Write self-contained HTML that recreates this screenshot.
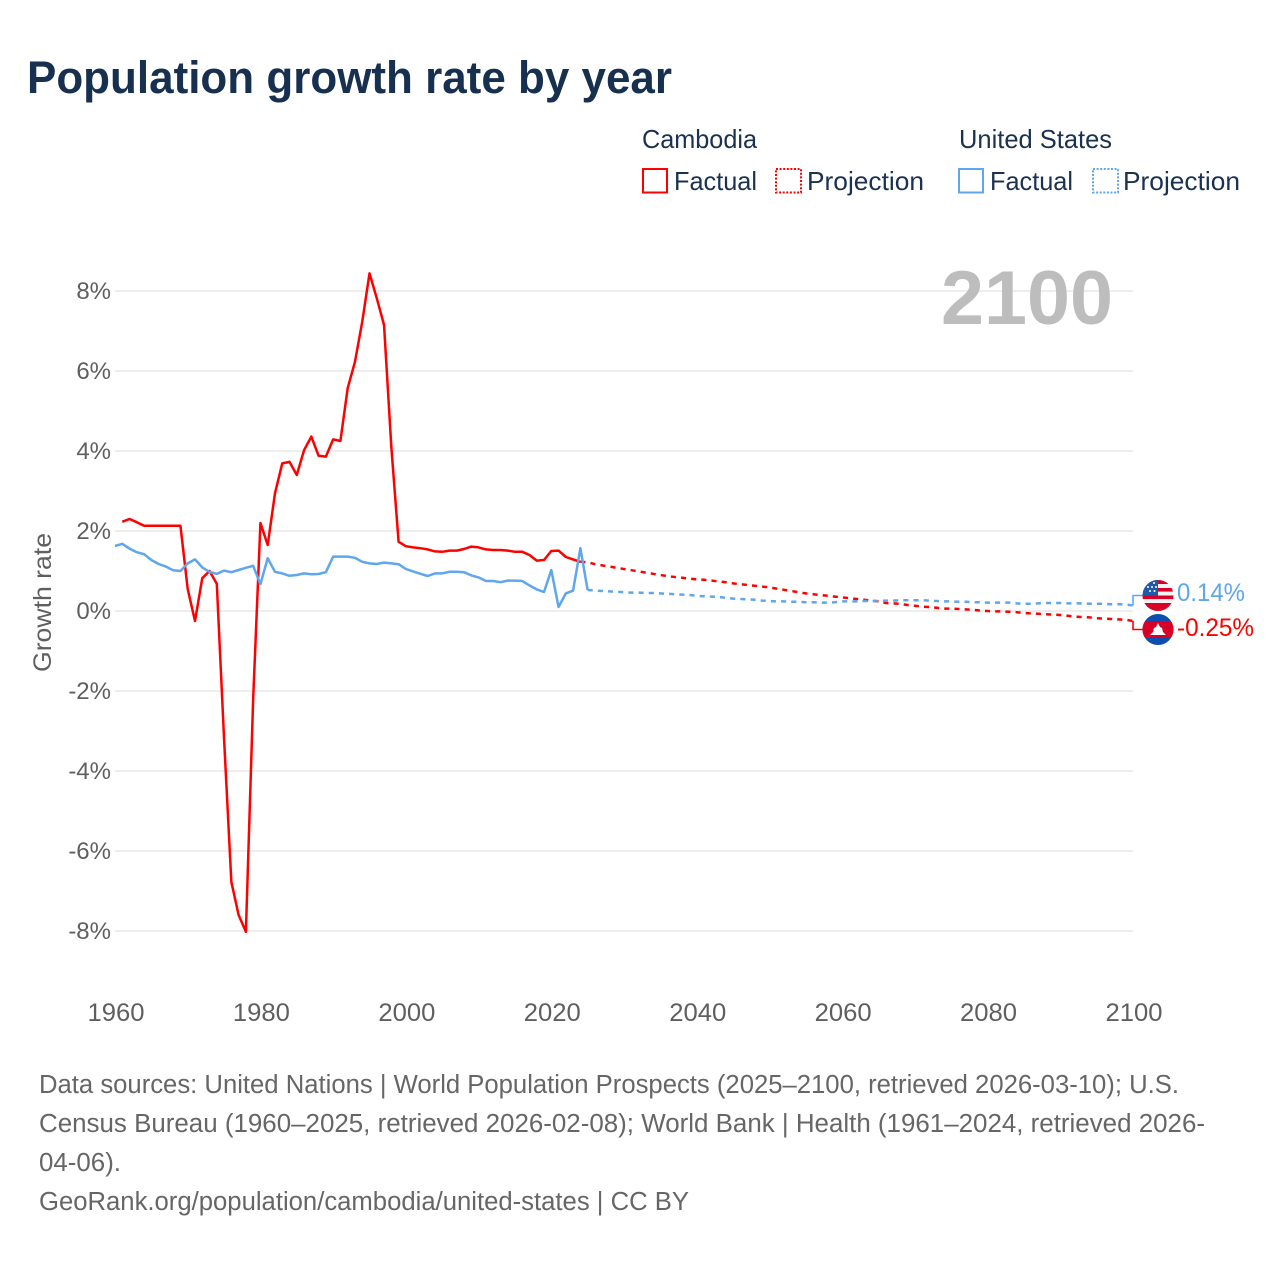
<!DOCTYPE html>
<html lang="en">
<head>
<meta charset="utf-8">
<title>Population growth rate by year</title>
<style>
html,body{margin:0;padding:0;background:#fff;width:1280px;height:1280px;overflow:hidden}
svg{display:block}
text{font-family:"Liberation Sans",sans-serif}
</style>
</head>
<body>
<svg id="chart" xmlns="http://www.w3.org/2000/svg" width="1280" height="1280" viewBox="0 0 1280 1280">
  <rect x="0" y="0" width="1280" height="1280" fill="#fff"/>
  <text x="27" y="93" font-size="45" font-weight="700" fill="#18304f" textLength="645" lengthAdjust="spacingAndGlyphs">Population growth rate by year</text>

  <g font-size="26" fill="#1b3150">
    <text x="642" y="148" textLength="115" lengthAdjust="spacingAndGlyphs">Cambodia</text>
    <text x="959" y="148" textLength="153" lengthAdjust="spacingAndGlyphs">United States</text>
    <rect x="643" y="169" width="24" height="23.5" fill="none" stroke="#ff0000" stroke-width="2"/>
    <text x="674" y="190" textLength="83" lengthAdjust="spacingAndGlyphs">Factual</text>
    <rect x="776" y="169" width="25" height="23.5" fill="none" stroke="#ff0000" stroke-width="2" stroke-dasharray="2 1.6"/>
    <text x="807" y="190" textLength="117" lengthAdjust="spacingAndGlyphs">Projection</text>
    <rect x="959" y="169" width="24" height="23.5" fill="none" stroke="#5fa6ec" stroke-width="2"/>
    <text x="990" y="190" textLength="83" lengthAdjust="spacingAndGlyphs">Factual</text>
    <rect x="1093" y="169" width="25" height="23.5" fill="none" stroke="#5fa6ec" stroke-width="2" stroke-dasharray="2 1.6"/>
    <text x="1123" y="190" textLength="117" lengthAdjust="spacingAndGlyphs">Projection</text>
  </g>

  <g id="grid"></g>
  <g id="yticks" font-size="24" fill="#5f5f5f" text-anchor="end"></g>
  <g id="xticks" font-size="25" fill="#5f5f5f" text-anchor="middle"></g>
  <text transform="translate(51,672) rotate(-90)" font-size="25" fill="#5f5f5f" textLength="139" lengthAdjust="spacingAndGlyphs">Growth rate</text>
  <text x="941" y="324" font-size="76" font-weight="700" fill="#bdbdbd" textLength="172" lengthAdjust="spacingAndGlyphs">2100</text>

  <g id="series"></g>

  <defs>
    <clipPath id="clip-us"><circle cx="1158" cy="595.5" r="15.5"/></clipPath>
    <clipPath id="clip-kh"><circle cx="1158" cy="629.5" r="15.5"/></clipPath>
  </defs>
  <g clip-path="url(#clip-us)">
    <rect x="1142" y="580" width="32" height="32" fill="#f3f3f3"/>
    <rect x="1142" y="580" width="32" height="4" fill="#d80027"/>
    <rect x="1142" y="588" width="32" height="3.6" fill="#d80027"/>
    <rect x="1142" y="595.5" width="32" height="3.6" fill="#d80027"/>
    <rect x="1142" y="603" width="32" height="9" fill="#d80027"/>
    <rect x="1142" y="580" width="16" height="15.5" fill="#1f5ba8"/>
    <g fill="#fff">
      <circle cx="1150" cy="591" r="1"/><circle cx="1154.5" cy="591" r="1"/>
      <circle cx="1152" cy="587" r="1"/><circle cx="1156" cy="587" r="1"/>
      <circle cx="1154" cy="583" r="1"/><circle cx="1148" cy="587" r="1"/>
    </g>
  </g>
  <g clip-path="url(#clip-kh)">
    <rect x="1142" y="614" width="32" height="32" fill="#0d4fb0"/>
    <rect x="1142" y="622" width="32" height="15" fill="#d80027"/>
    <path d="M1158 623 L1160 627 L1162 628 L1163 632 L1166 635 L1150 635 L1153 632 L1154 628 L1156 627 Z" fill="#fff"/>
  </g>
  <text id="label-us" x="1177" y="601" font-size="25" fill="#5fa6ec" textLength="68" lengthAdjust="spacingAndGlyphs">0.14%</text>
  <text id="label-kh" x="1177" y="636" font-size="25" fill="#ff0000" textLength="77" lengthAdjust="spacingAndGlyphs">-0.25%</text>

  <g font-size="25.5" fill="#666666">
    <text x="39" y="1093" textLength="1140" lengthAdjust="spacingAndGlyphs">Data sources: United Nations | World Population Prospects (2025–2100, retrieved 2026-03-10); U.S.</text>
    <text x="39" y="1132" textLength="1166" lengthAdjust="spacingAndGlyphs">Census Bureau (1960–2025, retrieved 2026-02-08); World Bank | Health (1961–2024, retrieved 2026-</text>
    <text x="39" y="1171" textLength="82" lengthAdjust="spacingAndGlyphs">04-06).</text>
    <text x="39" y="1210" textLength="650" lengthAdjust="spacingAndGlyphs">GeoRank.org/population/cambodia/united-states | CC BY</text>
  </g>
</svg>

<script>
const yTickValues = [8, 6, 4, 2, 0, -2, -4, -6, -8];
const xTickYears = [1960, 1980, 2000, 2020, 2040, 2060, 2080, 2100];

const cambodiaFactualStartYear = 1961;
const cambodiaFactual = [2.23, 2.30, 2.22, 2.13, 2.13, 2.13, 2.13, 2.13, 2.13, 0.55, -0.25, 0.82, 1.00, 0.68, -3.20, -6.77, -7.60, -8.02, -2.20, 2.20, 1.65, 2.94, 3.69, 3.73, 3.40, 4.02, 4.36, 3.88, 3.86, 4.29, 4.25, 5.57, 6.23, 7.23, 8.44, 7.82, 7.15, 4.11, 1.73, 1.62, 1.59, 1.57, 1.54, 1.49, 1.48, 1.51, 1.51, 1.55, 1.61, 1.59, 1.54, 1.525, 1.525, 1.51, 1.48, 1.48, 1.40, 1.26, 1.275, 1.50, 1.51, 1.35, 1.29, 1.23];

const cambodiaProjectionStartYear = 2024;
const cambodiaProjection = [1.23, 1.22, 1.17, 1.14, 1.11, 1.08, 1.05, 1.02, 0.99, 0.96, 0.93, 0.90, 0.87, 0.85, 0.83, 0.81, 0.79, 0.78, 0.76, 0.74, 0.72, 0.69, 0.67, 0.65, 0.63, 0.61, 0.59, 0.56, 0.53, 0.50, 0.47, 0.44, 0.42, 0.40, 0.38, 0.36, 0.34, 0.32, 0.30, 0.28, 0.26, 0.24, 0.20, 0.19, 0.18, 0.15, 0.13, 0.11, 0.10, 0.08, 0.06, 0.06, 0.05, 0.04, 0.03, 0.01, 0.00, -0.01, -0.01, -0.02, -0.03, -0.05, -0.06, -0.07, -0.08, -0.09, -0.10, -0.12, -0.14, -0.15, -0.16, -0.18, -0.19, -0.20, -0.21, -0.22, -0.25];

const usFactualStartYear = 1960;
const usFactual = [1.625, 1.68, 1.56, 1.47, 1.42, 1.275, 1.175, 1.11, 1.02, 1.00, 1.19, 1.29, 1.09, 0.975, 0.93, 1.01, 0.97, 1.025, 1.08, 1.13, 0.67, 1.32, 0.98, 0.94, 0.88, 0.90, 0.94, 0.92, 0.925, 0.97, 1.36, 1.36, 1.36, 1.33, 1.23, 1.19, 1.175, 1.21, 1.19, 1.17, 1.05, 0.99, 0.93, 0.875, 0.94, 0.94, 0.98, 0.98, 0.97, 0.89, 0.84, 0.75, 0.75, 0.72, 0.76, 0.76, 0.75, 0.64, 0.54, 0.475, 1.025, 0.10, 0.44, 0.51, 1.57, 0.525];

const usProjectionStartYear = 2025;
const usProjection = [0.525, 0.51, 0.50, 0.49, 0.48, 0.47, 0.46, 0.46, 0.45, 0.45, 0.44, 0.43, 0.42, 0.41, 0.40, 0.38, 0.37, 0.36, 0.35, 0.33, 0.31, 0.30, 0.29, 0.28, 0.26, 0.25, 0.24, 0.24, 0.23, 0.23, 0.22, 0.22, 0.21, 0.21, 0.22, 0.24, 0.24, 0.24, 0.25, 0.25, 0.25, 0.26, 0.26, 0.27, 0.27, 0.27, 0.27, 0.26, 0.25, 0.24, 0.24, 0.23, 0.23, 0.22, 0.22, 0.21, 0.21, 0.21, 0.21, 0.19, 0.18, 0.18, 0.19, 0.20, 0.20, 0.20, 0.19, 0.19, 0.19, 0.18, 0.18, 0.18, 0.17, 0.17, 0.16, 0.14];

const SVG_NS = 'http://www.w3.org/2000/svg';
const xScale = year => 115 + (year - 1960) * (1133 - 115) / 140;
const yScale = value => 611 - value * 40;
const RED = '#ff0000';
const BLUE = '#5fa6ec';
const FLAG_X = 1143;

function linePath(values, startYear) {
  return values.map((v, i) => (i ? 'L' : 'M') + xScale(startYear + i).toFixed(2) + ' ' + yScale(v).toFixed(2)).join(' ');
}
function makeLine(d, color, dashed, width) {
  const el = document.createElementNS(SVG_NS, 'path');
  el.setAttribute('d', d);
  el.setAttribute('fill', 'none');
  el.setAttribute('stroke', color);
  el.setAttribute('stroke-width', width);
  el.setAttribute('stroke-linejoin', 'round');
  if (dashed) el.setAttribute('stroke-dasharray', '5.1 5.1');
  document.getElementById('series').appendChild(el);
  return el;
}

yTickValues.forEach(v => {
  const line = document.createElementNS(SVG_NS, 'line');
  
  
  line.setAttribute('x1', xScale(1960));
  line.setAttribute('x2', xScale(2100));
  line.setAttribute('y1', yScale(v));
  line.setAttribute('y2', yScale(v));
  line.setAttribute('stroke', '#e9e9e9');
  line.setAttribute('stroke-width', '1.5');
  document.getElementById('grid').appendChild(line);

  const label = document.createElementNS(SVG_NS, 'text');
  
  
  label.setAttribute('x', 111);
  label.setAttribute('y', yScale(v) + 8);
  label.textContent = v + '%';
  document.getElementById('yticks').appendChild(label);
});

xTickYears.forEach(year => {
  const label = document.createElementNS(SVG_NS, 'text');
  
  
  label.setAttribute('x', xScale(year) + 1);
  label.setAttribute('y', 1021);
  label.setAttribute('textLength', 57);
  label.setAttribute('lengthAdjust', 'spacingAndGlyphs');
  label.textContent = year;
  document.getElementById('xticks').appendChild(label);
});

const cambodiaFactualLine = makeLine(linePath(cambodiaFactual, cambodiaFactualStartYear), RED, false, 2.5);



const cambodiaProjectionLine = makeLine(linePath(cambodiaProjection, cambodiaProjectionStartYear), RED, true, 2.5);



const usFactualLine = makeLine(linePath(usFactual, usFactualStartYear), BLUE, false, 2.5);



const usProjectionLine = makeLine(linePath(usProjection, usProjectionStartYear), BLUE, true, 2.5);



const lastCambodia = cambodiaProjection[cambodiaProjection.length - 1];
const lastUs = usProjection[usProjection.length - 1];

const cambodiaConnector = makeLine('M' + xScale(2100) + ' ' + yScale(lastCambodia) + ' V629.5 H' + FLAG_X, RED, false, 1.6);



const usConnector = makeLine('M' + xScale(2100) + ' ' + yScale(lastUs) + ' V595.5 H' + FLAG_X, BLUE, false, 1.6);



document.getElementById('label-us').textContent = lastUs.toFixed(2) + '%';
document.getElementById('label-kh').textContent = lastCambodia.toFixed(2) + '%';
</script>
</body>
</html>
